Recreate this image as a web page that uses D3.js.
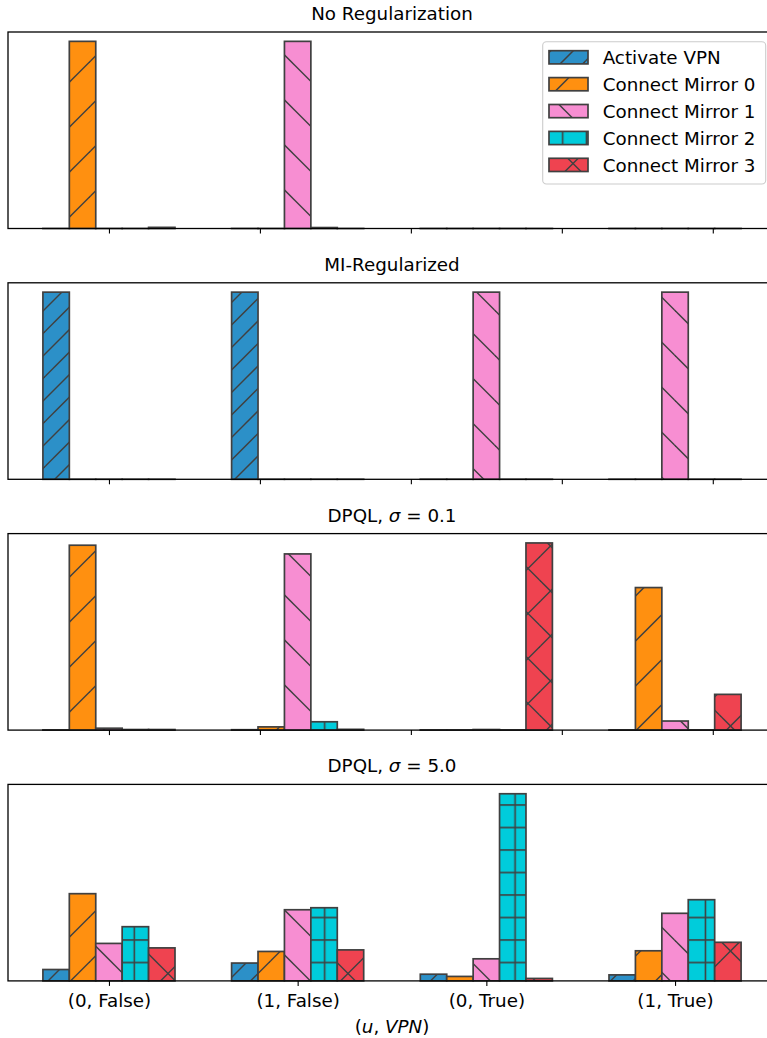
<!DOCTYPE html>
<html><head><meta charset="utf-8">
<script src="https://cdn.jsdelivr.net/npm/d3@7"></script>
<style>html,body{margin:0;padding:0;background:#fff}svg{display:block}</style>
</head><body><svg id="c" width="767" height="1038"></svg>
<script>
// ---------------- data ----------------
const categories = ["(0, False)", "(1, False)", "(0, True)", "(1, True)"];
const seriesNames = ["Activate VPN", "Connect Mirror 0", "Connect Mirror 1", "Connect Mirror 2", "Connect Mirror 3"];
const topTickValues = [0, 0.8, 1.6, 2.4, 3.2];
const bottomTickValues = [0, 1, 2, 3];
const xLabel = [{t: "("}, {t: "u", i: true}, {t: ", "}, {t: "VPN", i: true}, {t: ")"}];

// one array per series, one value per category
const noRegValues = [
  [0.0, 0.0, 0.0, 0.0],
  [0.99, 0.0, 0.0, 0.0],
  [0.0, 0.99, 0.0, 0.0],
  [0.0, 0.005, 0.0, 0.0],
  [0.006, 0.0, 0.0, 0.0]
];
const miRegValues = [
  [0.99, 0.99, 0.0, 0.0],
  [0.0, 0.0, 0.0, 0.0],
  [0.0, 0.0, 0.99, 0.99],
  [0.0, 0.0, 0.0, 0.0],
  [0.0, 0.0, 0.0, 0.0]
];
const dpql01Values = [
  [0.001, 0.002, 0.001, 0.001],
  [0.978, 0.017, 0.001, 0.754],
  [0.010, 0.932, 0.003, 0.048],
  [0.003, 0.044, 0.001, 0.001],
  [0.003, 0.004, 0.990, 0.189]
];
const dpql50Values = [
  [0.051, 0.080, 0.030, 0.027],
  [0.391, 0.132, 0.020, 0.135],
  [0.168, 0.319, 0.099, 0.303],
  [0.243, 0.328, 0.839, 0.364],
  [0.148, 0.139, 0.011, 0.173]
];
const panelTitles = [
  [{t: "No Regularization"}],
  [{t: "MI-Regularized"}],
  [{t: "DPQL, "}, {t: "σ", i: true}, {t: " = 0.1"}],
  [{t: "DPQL, "}, {t: "σ", i: true}, {t: " = 5.0"}]
];
const panelValues = [noRegValues, miRegValues, dpql01Values, dpql50Values];

// ---------------- style ----------------
const colors = ["#2c90c8", "#ff9010", "#f78ed2", "#00ccdb", "#ef4350"];
const edgeColor = "#404040";
const FONT = "DejaVu Sans";
const FS = 18.3;

const svg = d3.select("#c");
const axLeft = 8, axRight = 776;
const panelTop0 = 32, panelStep = 250.8, panelH = 196.5;
const barW = 0.14;

const x = d3.scaleLinear().domain([-0.535, 3.535]).range([axLeft, axRight]);

// ---------------- hatch patterns ----------------
const defs = svg.append("defs");
function diagPattern(id, specs) {
  const p = defs.append("pattern").attr("id", id).attr("patternUnits", "userSpaceOnUse")
    .attr("x", 0).attr("y", 0).attr("width", 45).attr("height", 45);
  specs.forEach(s => {
    for (let k = -3; k <= 3; k++) {
      const c = s.c + k * s.step;
      if (s.dir === "ne") {
        p.append("line").attr("x1", c + 15).attr("y1", -15).attr("x2", c - 60).attr("y2", 60);
      } else {
        p.append("line").attr("x1", -15).attr("y1", c - 15).attr("x2", 60).attr("y2", c + 60);
      }
    }
  });
  p.selectAll("line").attr("stroke", edgeColor).attr("stroke-width", 1.5);
}
diagPattern("h0", [{dir: "ne", c: 16.5, step: 22.5}]);
diagPattern("h1", [{dir: "ne", c: 16.5, step: 45}]);
diagPattern("h2", [{dir: "nw", c: 40.5, step: 45}]);
diagPattern("h4", [{dir: "ne", c: 16.5, step: 45}, {dir: "nw", c: 40.5, step: 45}]);
(function () {
  const pw = 23.8, ph = 22.5;
  const p = defs.append("pattern").attr("id", "h3").attr("patternUnits", "userSpaceOnUse")
    .attr("x", 0).attr("y", 0).attr("width", pw).attr("height", ph);
  p.append("line").attr("x1", 15.3).attr("y1", -1).attr("x2", 15.3).attr("y2", ph + 1);
  p.append("line").attr("x1", -1).attr("y1", 17.5).attr("x2", pw + 1).attr("y2", 17.5);
  p.selectAll("line").attr("stroke", edgeColor).attr("stroke-width", 1.6);
})();

function addText(sel, parts) {
  parts.forEach(pt => {
    const ts = sel.append("tspan").text(pt.t);
    if (pt.i) ts.attr("font-style", "italic");
  });
  return sel;
}

// ---------------- panels ----------------
panelValues.forEach((vals, pi) => {
  const top = panelTop0 + pi * panelStep;
  const bottom = top + panelH;
  const maxV = d3.max(vals.flat());
  const y = d3.scaleLinear().domain([0, maxV * 1.05]).range([bottom, top]);
  const g = svg.append("g");

  vals.forEach((sv, si) => {
    const data = sv.map((v, ci) => ({v, ci}));
    const bx = d => x(d.ci + (si - 2.5) * barW);
    const bw = x(barW) - x(0);
    const bh = d => Math.max(y(0) - y(d.v), 0.01);
    g.selectAll(null).data(data).enter().append("rect")
      .attr("x", bx).attr("y", d => y(0) - bh(d)).attr("width", bw).attr("height", bh)
      .attr("fill", colors[si]);
    g.selectAll(null).data(data).enter().append("rect")
      .attr("x", bx).attr("y", d => y(0) - bh(d)).attr("width", bw).attr("height", bh)
      .attr("fill", d => (y(0) - y(d.v)) > 1.5 ? `url(#h${si})` : "none")
      .attr("stroke", edgeColor).attr("stroke-width", 1.7);
  });

  // ticks
  const isLast = pi === panelValues.length - 1;
  const axis = d3.axisBottom(x).tickValues(isLast ? bottomTickValues : topTickValues)
    .tickSize(5).tickSizeOuter(0).tickPadding(7)
    .tickFormat(isLast ? (d => categories[d]) : () => "");
  const ag = svg.append("g").attr("transform", `translate(0,${bottom})`).call(axis);
  ag.select(".domain").remove();
  ag.selectAll(".tick line").attr("stroke", "#000").attr("stroke-width", 1.1);
  ag.selectAll(".tick text").attr("font-family", FONT).attr("font-size", FS).attr("fill", "#000")
    .attr("dy", "0.78em");

  // spines
  svg.append("rect").attr("x", axLeft).attr("y", top).attr("width", axRight - axLeft).attr("height", panelH)
    .attr("fill", "none").attr("stroke", "#000").attr("stroke-width", 1.3);

  // title
  addText(svg.append("text").attr("x", (axLeft + axRight) / 2).attr("y", top - 12)
    .attr("text-anchor", "middle").attr("font-family", FONT).attr("font-size", FS).attr("fill", "#000"),
    panelTitles[pi]);

  if (isLast) {
    addText(svg.append("text").attr("x", (axLeft + axRight) / 2).attr("y", bottom + 52)
      .attr("text-anchor", "middle").attr("font-family", FONT).attr("font-size", FS).attr("fill", "#000"),
      xLabel);
  }
});

// ---------------- legend ----------------
const lg = svg.append("g");
lg.append("rect").attr("x", 542.7).attr("y", 41.7).attr("width", 223).attr("height", 142.3)
  .attr("rx", 3.7).attr("fill", "#fff").attr("fill-opacity", 0.8)
  .attr("stroke", "#cccccc").attr("stroke-width", 1.1);
seriesNames.forEach((name, si) => {
  const cy = 57.3 + si * 26.9;
  lg.append("rect").attr("x", 549).attr("y", cy - 6.6).attr("width", 39).attr("height", 13.2)
    .attr("fill", colors[si]);
  lg.append("rect").attr("x", 549).attr("y", cy - 6.6).attr("width", 39).attr("height", 13.2)
    .attr("fill", `url(#h${si})`).attr("stroke", edgeColor).attr("stroke-width", 1.7);
  lg.append("text").attr("x", 602.7).attr("y", cy + 6.6).attr("font-family", FONT)
    .attr("font-size", FS).attr("fill", "#000").text(name);
});
</script></body></html>
